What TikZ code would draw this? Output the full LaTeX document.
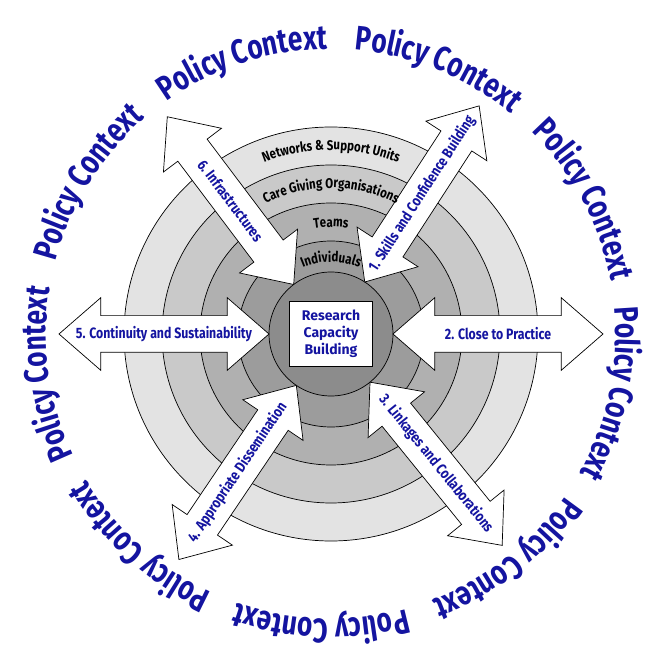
\documentclass[tikz,border=0pt]{standalone}
\usepackage{xcolor}
\usepackage{fontspec}
\usepackage{tikz}
\usetikzlibrary{shapes.arrows,decorations.text}

\newfontfamily\condfont{Fira Sans}[FakeStretch=0.82]
\newfontfamily\narrowfont{Fira Sans}[FakeStretch=0.77]
\newfontfamily\widefont{Fira Sans}
\newcommand\policyfont{\narrowfont\bfseries\fontsize{34pt}{36pt}\selectfont}
\newcommand\ringfont{\condfont\bfseries\fontsize{14pt}{16pt}\selectfont}
\definecolor{policyblue}{RGB}{20,20,160}

\begin{document}
\begin{tikzpicture}
	  \tikzset{ring/.style={draw, line width=0.7pt},
	  	armarrow/.style={draw, fill=white, line width=0.7pt, double arrow, double arrow tip angle=82, double arrow head extend=18pt, minimum height=210pt, inner xsep=0pt, inner ysep=18pt},
	  	armlabel/.style={font=\condfont\bfseries\fontsize{15pt}{17pt}\selectfont, text=policyblue, inner sep=0pt},
	  	ringlabel/.style={decorate, decoration={text along path, text align=center, text={#1}}},
	  	policylabel/.style={decorate, decoration={text along path, text align=center, text color=policyblue, text={|\policyfont|Policy Context}}},
	  }
	  \useasboundingbox (-331pt,-321pt) rectangle (316pt,334pt);

	  %% rings
	  \filldraw[ring, fill=black!11] (0,0) circle[radius=207pt];
	  \filldraw[ring, fill=black!21] (0,0) circle[radius=169pt];
	  \filldraw[ring, fill=black!31] (0,0) circle[radius=131pt];
	  \filldraw[ring, fill=black!39] (0,0) circle[radius=93pt];
	  \node [circle, draw, line width=0.7pt, fill=black!45, minimum size=124pt, inner sep=0pt] (core) at (0,0) {};

	  %% arrows
	  \node [armarrow, rotate=0] (practice) at (0:167pt) {};
	  \node [armarrow, rotate=57] (skills) at (57:167pt) {};
	  \node [armarrow, rotate=-53] (infra) at (127:167pt) {};
	  \node [armarrow, rotate=0] (continuity) at (180:167pt) {};
	  \node [armarrow, rotate=56] (dissemination) at (236:167pt) {};
	  \node [armarrow, rotate=-51] (linkages) at (309:167pt) {};

	  \node [armlabel, rotate=57] (skillstext) at (skills.center) {1. Skills and Confidence Building};
	  \node [armlabel] (practicetext) at (practice.center) {2. Close to Practice};
	  \node [armlabel, rotate=-51] (linkagestext) at (linkages.center) {3. Linkages and Collaborations};
	  \node [armlabel, rotate=56] (disseminationtext) at (dissemination.center) {4. Appropriate Dissemination};
	  \node [armlabel] (continuitytext) at (continuity.center) {5. Continuity and Sustainability};
	  \node [armlabel, rotate=-53] (infratext) at (infra.center) {6. Infrastructures};

	  \node [draw, fill=white, line width=0.7pt, minimum width=83pt, minimum height=65pt, align=center, text=policyblue, font=\widefont\bfseries\fontsize{14pt}{17pt}\selectfont] (research) at (0,0) {Research\\Capacity\\Building};

	  %% ring labels
	  \path[ringlabel={|\ringfont|Networks {\&} Support Units}] (130:184pt) arc[start angle=130, end angle=50, radius=184pt];
	  \path[ringlabel={|\ringfont|Care Giving Organisations}] (135:146pt) arc[start angle=135, end angle=45, radius=146pt];
	  \path[ringlabel={|\ringfont|Teams}] (130:107pt) arc[start angle=130, end angle=50, radius=107pt];
	  \path[ringlabel={|\ringfont|Individuals}] (140:72pt) arc[start angle=140, end angle=40, radius=72pt];

	  %% policy context
	  \foreach \a in {108,68,28,-12,-52,-92,-132,-172,-212}
	  	\path[policylabel] (\a+19:285pt) arc[start angle=\a+19, end angle=\a-19, radius=285pt];
\end{tikzpicture}
\end{document}
